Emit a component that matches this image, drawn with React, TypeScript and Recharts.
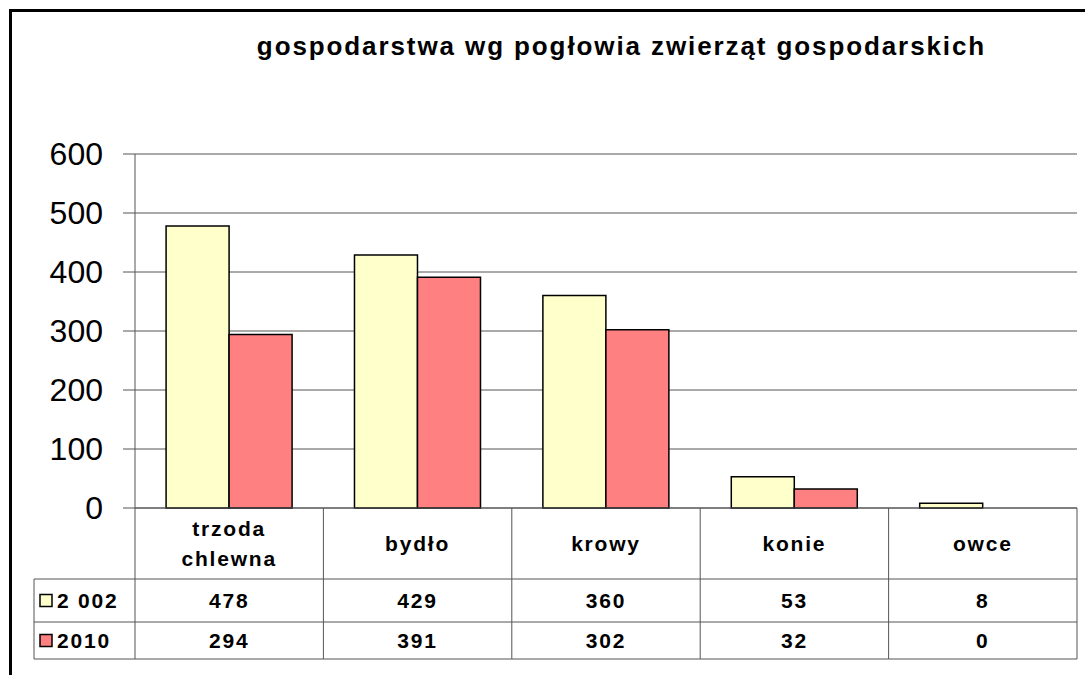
import { Bar, BarChart, CartesianGrid, XAxis, YAxis } from "recharts";

const categories = ["trzoda chlewna", "bydło", "krowy", "konie", "owce"];
const values2002 = [478, 429, 360, 53, 8];
const values2010 = [294, 391, 302, 32, 0];
const seriesNames = ["2 002", "2010"];
const seriesColors = ["#FFFFCC", "#FF8080"];
const yTicks = [0, 100, 200, 300, 400, 500, 600];

const title = "gospodarstwa wg pogłowia zwierząt gospodarskich";

const data = categories.map((name, i) => ({
  name,
  v2002: values2002[i],
  v2010: values2010[i],
}));

const FONT = "'Liberation Sans', Arial, sans-serif";
const W = 1085;
const H = 675;
const PLOT_LEFT = 135;
const PLOT_RIGHT = 1077;
const PLOT_BOTTOM = 508;
const ROW1 = 579;
const ROW2 = 622;
const ROW3 = 659;
const BAND = (PLOT_RIGHT - PLOT_LEFT) / categories.length;
const LINE = "#555";

const cellText = {
  fontFamily: FONT,
  fontSize: 21,
  fontWeight: 700,
  letterSpacing: 1.8,
  fill: "#000",
} as const;

function TableColumn(props: any) {
  const { x, payload, index } = props;
  const left = x - BAND / 2;
  const right = x + BAND / 2;
  const words = String(payload.value).split(" ");
  const mid1 = (PLOT_BOTTOM + ROW1) / 2;
  return (
    <g>
      <line x1={right} x2={right} y1={PLOT_BOTTOM} y2={ROW3} stroke={LINE} />
      <line x1={left} x2={right} y1={ROW1} y2={ROW1} stroke={LINE} />
      <line x1={left} x2={right} y1={ROW2} y2={ROW2} stroke={LINE} />
      <line x1={left} x2={right} y1={ROW3} y2={ROW3} stroke={LINE} />
      {words.length > 1 ? (
        words.map((w, k) => (
          <text key={k} x={x} y={mid1 + (k === 0 ? -15 : 15)} textAnchor="middle" dominantBaseline="central" {...cellText}>
            {w}
          </text>
        ))
      ) : (
        <text x={x} y={mid1} textAnchor="middle" dominantBaseline="central" {...cellText}>
          {payload.value}
        </text>
      )}
      <text x={x} y={(ROW1 + ROW2) / 2} textAnchor="middle" dominantBaseline="central" {...cellText}>
        {values2002[index]}
      </text>
      <text x={x} y={(ROW2 + ROW3) / 2} textAnchor="middle" dominantBaseline="central" {...cellText}>
        {values2010[index]}
      </text>
    </g>
  );
}

export default function App() {
  return (
    <div
      style={{
        position: "absolute",
        left: 0,
        top: 0,
        width: W,
        height: H,
        background: "#fff",
        overflow: "hidden",
      }}
    >
      <div
        style={{
          position: "absolute",
          left: 9,
          top: 9,
          width: W,
          height: H,
          borderLeft: "3px solid #000",
          borderTop: "3px solid #000",
        }}
      />
      <div
        style={{
          position: "absolute",
          left: 0,
          width: 1243,
          top: 31,
          textAlign: "center",
          fontFamily: FONT,
          fontWeight: 700,
          fontSize: 26,
          letterSpacing: 1.9,
          color: "#000",
        }}
      >
        {title}
      </div>
      <div style={{ position: "absolute", left: 0, top: 0 }}>
        <BarChart
          width={W}
          height={H}
          data={data}
          margin={{ top: 154, right: W - PLOT_RIGHT, bottom: H - ROW3, left: 0 }}
          barCategoryGap="16.5%"
          barGap={0}
        >
          <CartesianGrid vertical={false} stroke={LINE} />
          <XAxis
            dataKey="name"
            height={ROW3 - PLOT_BOTTOM}
            axisLine={{ stroke: LINE }}
            tickLine={false}
            tick={(p: any) => <TableColumn {...p} />}
            interval={0}
          />
          <YAxis
            width={PLOT_LEFT}
            domain={[0, 600]}
            ticks={yTicks}
            axisLine={{ stroke: LINE }}
            tickLine={{ stroke: LINE }}
            tickSize={12}
            tickMargin={20}
            tick={{ fontFamily: FONT, fontSize: 32, fill: "#000" }}
          />
          <Bar dataKey="v2002" name={seriesNames[0]} fill={seriesColors[0]} stroke="#000" strokeWidth={1.5} isAnimationActive={false} />
          <Bar dataKey="v2010" name={seriesNames[1]} fill={seriesColors[1]} stroke="#000" strokeWidth={1.5} isAnimationActive={false} />
        </BarChart>
      </div>
      <svg
        width={W}
        height={H}
        style={{ position: "absolute", left: 0, top: 0, pointerEvents: "none" }}
      >
        <line x1={PLOT_LEFT} x2={PLOT_LEFT} y1={PLOT_BOTTOM} y2={ROW3} stroke={LINE} />
        <line x1={34} x2={PLOT_LEFT} y1={ROW1} y2={ROW1} stroke={LINE} />
        <line x1={34} x2={PLOT_LEFT} y1={ROW2} y2={ROW2} stroke={LINE} />
        <line x1={34} x2={PLOT_LEFT} y1={ROW3} y2={ROW3} stroke={LINE} />
        <line x1={34} x2={34} y1={ROW1} y2={ROW3} stroke={LINE} />
        {seriesNames.map((s, i) => {
          const cy = i === 0 ? (ROW1 + ROW2) / 2 : (ROW2 + ROW3) / 2;
          return (
            <g key={s}>
              <rect x={40} y={cy - 6} width={12} height={12} fill={seriesColors[i]} stroke="#000" strokeWidth={1.5} />
              <text x={57} y={cy} dominantBaseline="central" {...cellText}>
                {s}
              </text>
            </g>
          );
        })}
      </svg>
    </div>
  );
}
